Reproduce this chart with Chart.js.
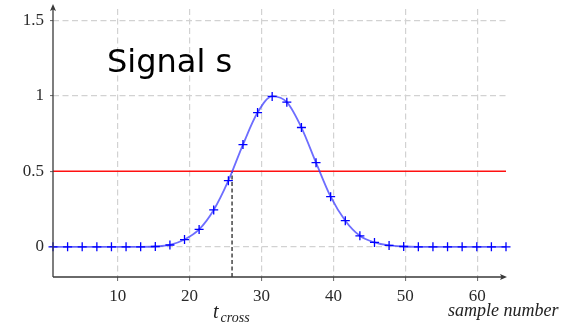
<!DOCTYPE html>
<html>
<head>
<meta charset="utf-8">
<script src="https://cdn.jsdelivr.net/npm/chart.js@4.4.1/dist/chart.umd.min.js"></script>
<style>
  html, body { margin: 0; padding: 0; background: #ffffff; }
  #wrap { width: 570px; height: 325px; position: relative; }
</style>
</head>
<body>
<div id="wrap"><canvas id="c" width="570" height="325"></canvas></div>
<script>
// ---- data ----
const sampleX = [1, 3.03, 5.06, 7.1, 9.13, 11.16, 13.19, 15.23, 17.26, 19.29, 21.32, 23.35,
                 25.39, 27.42, 29.45, 31.48, 33.52, 35.55, 37.58, 39.61, 41.65, 43.68, 45.71,
                 47.74, 49.77, 51.81, 53.84, 55.87, 57.9, 59.94, 61.97, 64];
const signalS = [0, 0, 0, 0, 0, 0, 0, 0.002, 0.012, 0.048, 0.115, 0.244,
                 0.438, 0.677, 0.889, 0.996, 0.958, 0.79, 0.557, 0.332, 0.173, 0.073, 0.029,
                 0.009, 0.002, 0, 0, 0, 0, 0, 0, 0];
const threshold = 0.5;
const tCross = 25.9;
const xTicks = [10, 20, 30, 40, 50, 60];
const yTicks = [0, 0.5, 1, 1.5];
const xRange = [1, 64];
const yRange = [-0.2, 1.575];
const titleText = 'Signal s';
const xAxisLabel = 'sample number';
const crossLabelMain = 't';
const crossLabelSub = 'cross';

const signalPoints = sampleX.map((x, i) => ({ x: x, y: signalS[i] }));

const overlay = {
  id: 'overlay',
  afterDatasetsDraw(chart) {
    const ctx = chart.ctx;
    const xs = chart.scales.x, ys = chart.scales.y;
    const L = xs.left, R = xs.right, B = ys.bottom, T = ys.top;
    ctx.save();
    // axes with arrows
    ctx.strokeStyle = '#3a3a3a';
    ctx.fillStyle = '#3a3a3a';
    ctx.lineWidth = 1.3;
    ctx.beginPath();
    ctx.moveTo(L, B); ctx.lineTo(R - 3, B);
    ctx.moveTo(L, B); ctx.lineTo(L, T - 1);
    ctx.stroke();
    ctx.beginPath();
    ctx.moveTo(R + 1, B); ctx.lineTo(R - 6, B - 3); ctx.lineTo(R - 4.5, B); ctx.lineTo(R - 6, B + 3); ctx.closePath();
    ctx.fill();
    ctx.beginPath();
    ctx.moveTo(L, T - 5); ctx.lineTo(L - 3, T + 2); ctx.lineTo(L, T + 0.5); ctx.lineTo(L + 3, T + 2); ctx.closePath();
    ctx.fill();
    // title
    ctx.fillStyle = '#000000';
    ctx.font = '32px "DejaVu Sans"';
    ctx.textAlign = 'left';
    ctx.textBaseline = 'alphabetic';
    ctx.fillText(titleText, 107, 72);
    // x axis label
    ctx.fillStyle = '#222222';
    ctx.font = 'italic 18px "Liberation Serif"';
    ctx.fillText(xAxisLabel, 448, 316);
    // t_cross label
    const px = xs.getPixelForValue(tCross);
    ctx.font = 'italic 20px "Liberation Serif"';
    ctx.fillText(crossLabelMain, px - 19, 318);
    ctx.font = 'italic 14px "Liberation Serif"';
    ctx.fillText(crossLabelSub, px - 11.5, 322);
    ctx.restore();
  }
};

new Chart(document.getElementById('c'), {
  type: 'line',
  data: {
    datasets: [
      {
        label: 'signal',
        data: signalPoints,
        borderColor: 'rgba(60,60,255,0.75)',
        borderWidth: 1.8,
        cubicInterpolationMode: 'monotone',
        pointStyle: 'cross',
        pointRadius: 4.5,
        pointBorderColor: '#0000ff',
        pointBorderWidth: 1.3,
        pointBackgroundColor: '#0000ff',
        clip: false,
        order: 1
      },
      {
        label: 'threshold',
        data: [{ x: xRange[0], y: threshold }, { x: xRange[1], y: threshold }],
        borderColor: '#ff1010',
        borderWidth: 1.6,
        pointRadius: 0,
        order: 2
      },
      {
        label: 'tcross',
        data: [{ x: tCross, y: yRange[0] }, { x: tCross, y: threshold }],
        borderColor: '#000000',
        borderWidth: 1.1,
        borderDash: [4, 2.5],
        pointRadius: 0,
        order: 3
      }
    ]
  },
  options: {
    responsive: false,
    animation: false,
    events: [],
    layout: { padding: { left: 0, top: 9, right: 64, bottom: 0 } },
    plugins: { legend: { display: false }, tooltip: { enabled: false }, title: { display: false } },
    scales: {
      x: {
        type: 'linear',
        min: xRange[0],
        max: xRange[1],
        afterBuildTicks: s => { s.ticks = xTicks.map(v => ({ value: v })); },
        afterFit: s => { s.height = 48; s.paddingLeft = 0; s.paddingRight = 0; },
        grid: { color: '#d2d2d2', lineWidth: 1.2, drawTicks: true, tickLength: 4, tickColor: '#666666', tickWidth: 1 },
        border: { display: false, dash: [6, 3.5] },
        ticks: {
          autoSkip: false, maxRotation: 0, padding: 5,
          color: '#2a2a2a',
          font: { family: '"Liberation Serif"', size: 17 },
          callback: v => String(v)
        }
      },
      y: {
        type: 'linear',
        min: yRange[0],
        max: yRange[1],
        afterBuildTicks: s => { s.ticks = yTicks.map(v => ({ value: v })); },
        afterFit: s => { s.width = 53; s.paddingTop = 0; s.paddingBottom = 0; },
        grid: {
          color: ctx => (ctx.tick && ctx.tick.value === threshold) ? 'rgba(0,0,0,0)' : '#d2d2d2',
          lineWidth: 1.2, drawTicks: true, tickLength: 3, tickColor: '#666666', tickWidth: 1
        },
        border: { display: false, dash: [6, 3.5] },
        ticks: {
          autoSkip: false, padding: 6,
          color: '#2a2a2a',
          font: { family: '"Liberation Serif"', size: 17 },
          callback: v => String(v)
        }
      }
    }
  },
  plugins: [overlay]
});
</script>
</body>
</html>
